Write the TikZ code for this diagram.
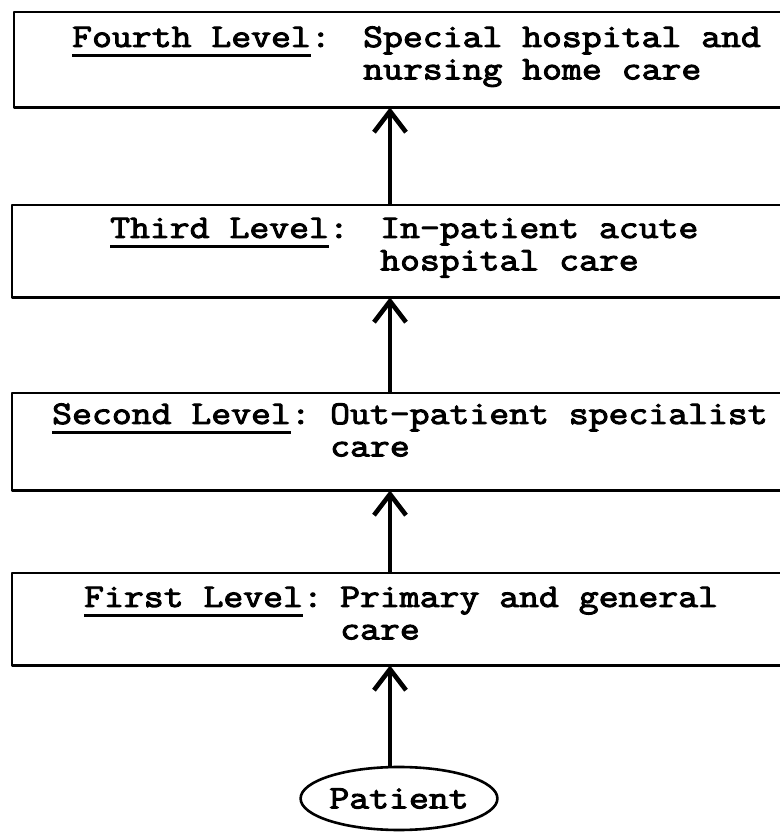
\documentclass[tikz,border=0pt]{standalone}
\usepackage{fontspec}
\newfontfamily\typew{Latin Modern Mono}[FakeStretch=1.17, FakeBold=3]
\usetikzlibrary{arrows.meta,shapes.geometric}
\newsavebox\ulbox
\newcommand\myul[1]{\sbox\ulbox{#1}\rlap{\rule[-10pt]{\wd\ulbox}{2.8pt}}\usebox\ulbox}
\newcommand\lvl[4]{\begin{tabular}[t]{@{}l@{}l@{}}\makebox[#1][l]{\myul{#2}:} & #3\\ & #4\end{tabular}}
\tikzset{
  boxn/.style={draw=none, inner sep=0pt, anchor=north west, minimum width=765pt},
  boxline/.style={line width=2.8pt, line cap=round, line join=round},
  txtfont/.style={font=\typew\fontsize{33}{32}\selectfont},
  txt/.style={txtfont, anchor=base west, inner sep=0pt},
  arr/.style={line width=3.6pt, -{Straight Barb[length=21pt, width=32pt, line width=4.6pt]}},
}
\begin{document}
\begin{tikzpicture}[x=1pt, y=1pt]
\useasboundingbox (0,0) rectangle (779,832);
\coordinate (spine) at (390,0);
% boxes
\node[boxn, minimum height=95pt] (b4) at (14,820) {};
\node[boxn, minimum height=92pt] (b3) at (12,627) {};
\node[boxn, minimum height=97pt] (b2) at (12,439) {};
\node[boxn, minimum height=92pt] (b1) at (12,259) {};
\foreach \b in {b4,b3,b2,b1}{
  \draw[boxline] ([xshift=20pt]\b.north east) -- (\b.north west) -- (\b.south west) -- ([xshift=20pt]\b.south east);
}
% texts
\node[txt] (t4) at (72,785) {\lvl{291pt}{Fourth Level}{Special hospital and}{nursing home care}};
\node[txt] (t3) at (110,594) {\lvl{270pt}{Third Level}{In-patient acute}{hospital care}};
\node[txt] (t2) at (52,408) {\lvl{278pt}{Second Level}{Out-patient specialist}{care}};
\node[txt] (t1) at (84,225) {\lvl{256pt}{First Level}{Primary and general}{care}};
% patient
\node[draw, ellipse, line width=2.6pt, inner sep=0pt, minimum width=168pt, minimum height=63pt, txtfont] (pat) at (399,33.5) {Patient};
% arrows
\draw[arr] (pat.north -| spine) -- (b1.south -| spine);
\draw[arr] (b1.north -| spine) -- (b2.south -| spine);
\draw[arr] (b2.north -| spine) -- (b3.south -| spine);
\draw[arr] (b3.north -| spine) -- (b4.south -| spine);
\end{tikzpicture}
\end{document}
